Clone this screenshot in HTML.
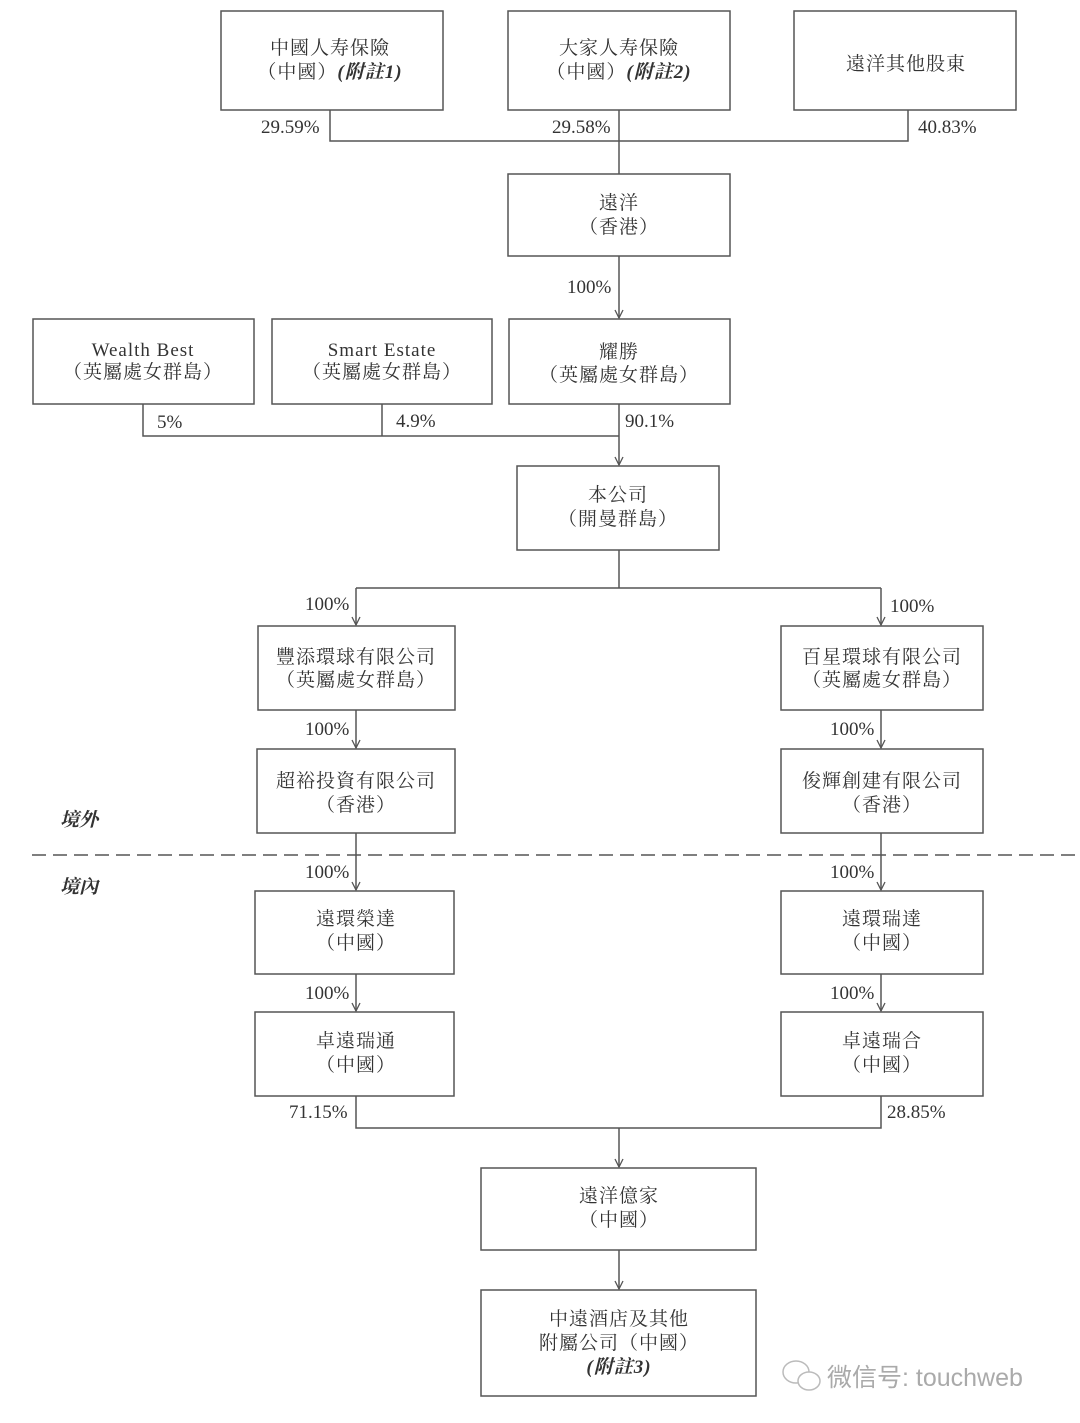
<!DOCTYPE html>
<html><head><meta charset="utf-8"><style>
html,body{margin:0;padding:0;background:#fff;}
svg{display:block;}
text{font-family:"Liberation Serif","Noto Serif CJK SC",serif;font-size:19px;fill:#333;}
.c{text-anchor:middle;letter-spacing:1px;}
.i{font-style:italic;font-weight:bold;}
.wm{font-family:"Liberation Sans","Noto Sans CJK SC",sans-serif;font-size:25px;fill:#aaa;letter-spacing:0;}
</style></head><body>
<svg width="1080" height="1423" viewBox="0 0 1080 1423" xmlns="http://www.w3.org/2000/svg">
<defs><marker id="a" markerWidth="10" markerHeight="10" refX="9" refY="5" orient="auto" markerUnits="userSpaceOnUse" viewBox="0 0 10 10"><path d="M1,1 L9,5 L1,9" fill="none" stroke="#555" stroke-width="1.3"/></marker></defs>
<g fill="none" stroke="#555" stroke-width="1.5">
<rect x="221" y="11" width="222" height="99"/>
<rect x="508" y="11" width="222" height="99"/>
<rect x="794" y="11" width="222" height="99"/>
<rect x="508" y="174" width="222" height="82"/>
<rect x="33" y="319" width="221" height="85"/>
<rect x="272" y="319" width="220" height="85"/>
<rect x="509" y="319" width="221" height="85"/>
<rect x="517" y="466" width="202" height="84"/>
<rect x="258" y="626" width="197" height="84"/>
<rect x="781" y="626" width="202" height="84"/>
<rect x="257" y="749" width="198" height="84"/>
<rect x="781" y="749" width="202" height="84"/>
<rect x="255" y="891" width="199" height="83"/>
<rect x="781" y="891" width="202" height="83"/>
<rect x="255" y="1012" width="199" height="84"/>
<rect x="781" y="1012" width="202" height="84"/>
<rect x="481" y="1168" width="275" height="82"/>
<rect x="481" y="1290" width="275" height="106"/>
<polyline points="330,110 330,141 908,141 908,110"/>
<line x1="619" y1="110" x2="619" y2="174"/>
<line x1="619" y1="256" x2="619" y2="318" marker-end="url(#a)"/>
<polyline points="143,404 143,436 619,436"/>
<line x1="382" y1="404" x2="382" y2="436"/>
<line x1="619" y1="404" x2="619" y2="465" marker-end="url(#a)"/>
<line x1="619" y1="550" x2="619" y2="588"/>
<line x1="356" y1="588" x2="881" y2="588"/>
<line x1="356" y1="588" x2="356" y2="625" marker-end="url(#a)"/>
<line x1="881" y1="588" x2="881" y2="625" marker-end="url(#a)"/>
<line x1="356" y1="710" x2="356" y2="748" marker-end="url(#a)"/>
<line x1="881" y1="710" x2="881" y2="748" marker-end="url(#a)"/>
<line x1="356" y1="833" x2="356" y2="890" marker-end="url(#a)"/>
<line x1="881" y1="833" x2="881" y2="890" marker-end="url(#a)"/>
<line x1="356" y1="974" x2="356" y2="1011" marker-end="url(#a)"/>
<line x1="881" y1="974" x2="881" y2="1011" marker-end="url(#a)"/>
<polyline points="356,1096 356,1128 881,1128 881,1096"/>
<line x1="619" y1="1128" x2="619" y2="1167" marker-end="url(#a)"/>
<line x1="619" y1="1250" x2="619" y2="1289" marker-end="url(#a)"/>
<line x1="32" y1="855" x2="1080" y2="855" stroke-dasharray="14,7"/>
</g>
<text class="c" x="330" y="54">中國人寿保險</text>
<text class="c" x="330" y="78">（中國）<tspan class="i">(附註1)</tspan></text>
<text class="c" x="619" y="54">大家人寿保險</text>
<text class="c" x="619" y="78">（中國）<tspan class="i">(附註2)</tspan></text>
<text class="c" x="906" y="70">遠洋其他股東</text>
<text x="261" y="133">29.59%</text>
<text x="552" y="133">29.58%</text>
<text x="918" y="133">40.83%</text>
<text class="c" x="619" y="209">遠洋</text>
<text class="c" x="619" y="233">（香港）</text>
<text x="567" y="293">100%</text>
<text class="c" x="143" y="356">Wealth Best</text>
<text class="c" x="143" y="378">（英屬處女群島）</text>
<text class="c" x="382" y="356">Smart Estate</text>
<text class="c" x="382" y="378">（英屬處女群島）</text>
<text class="c" x="619" y="358">耀勝</text>
<text class="c" x="619" y="381">（英屬處女群島）</text>
<text x="157" y="428">5%</text>
<text x="396" y="427">4.9%</text>
<text x="625" y="427">90.1%</text>
<text class="c" x="618" y="501">本公司</text>
<text class="c" x="618" y="525">（開曼群島）</text>
<text x="305" y="610">100%</text>
<text x="890" y="612">100%</text>
<text class="c" x="356" y="663">豐添環球有限公司</text>
<text class="c" x="356" y="686">（英屬處女群島）</text>
<text class="c" x="882" y="663">百星環球有限公司</text>
<text class="c" x="882" y="686">（英屬處女群島）</text>
<text x="305" y="735">100%</text>
<text x="830" y="735">100%</text>
<text class="c" x="356" y="787">超裕投資有限公司</text>
<text class="c" x="356" y="811">（香港）</text>
<text class="c" x="882" y="787">俊輝創建有限公司</text>
<text class="c" x="882" y="811">（香港）</text>
<text class="i" x="60" y="826">境外</text>
<text class="i" x="60" y="893">境內</text>
<text x="305" y="878">100%</text>
<text x="830" y="878">100%</text>
<text class="c" x="356" y="925">遠環榮達</text>
<text class="c" x="356" y="949">（中國）</text>
<text class="c" x="882" y="925">遠環瑞達</text>
<text class="c" x="882" y="949">（中國）</text>
<text x="305" y="999">100%</text>
<text x="830" y="999">100%</text>
<text class="c" x="356" y="1047">卓遠瑞通</text>
<text class="c" x="356" y="1071">（中國）</text>
<text class="c" x="882" y="1047">卓遠瑞合</text>
<text class="c" x="882" y="1071">（中國）</text>
<text x="289" y="1118">71.15%</text>
<text x="887" y="1118">28.85%</text>
<text class="c" x="619" y="1202">遠洋億家</text>
<text class="c" x="619" y="1226">（中國）</text>
<text class="c" x="619" y="1325">中遠酒店及其他</text>
<text class="c" x="619" y="1349">附屬公司（中國）</text>
<text class="c i" x="619" y="1373">(附註3)</text>
<g fill="none" stroke="#bbb" stroke-width="1.5">
<ellipse cx="796" cy="1372" rx="13" ry="11"/>
<ellipse cx="809" cy="1381" rx="11" ry="9" fill="#fff"/>
</g>
<text class="wm" x="827" y="1386">微信号: touchweb</text>
</svg>
</body></html>
